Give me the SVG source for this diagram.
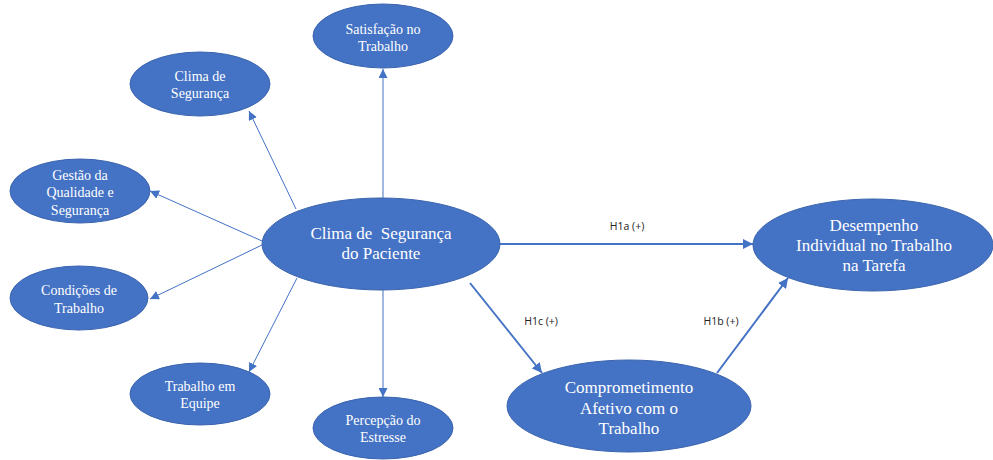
<svg xmlns="http://www.w3.org/2000/svg" width="993" height="460" viewBox="0 0 993 460">
<style>
.n{fill:#4472C4;stroke:#3A64AE;stroke-width:1}
.t{font-family:'Liberation Serif','Times New Roman','DejaVu Serif',serif;fill:#fff;text-anchor:middle}
.s{font-size:14px}
.b{font-size:17px}
.c{stroke:#4472C4;fill:none}
.thin{stroke-width:1}
.thick{stroke-width:2}
.lab{font-family:'Open Sans','Liberation Sans',sans-serif;font-size:10.5px;fill:#222;text-anchor:middle}
</style>
<defs>
<marker id="a" viewBox="0 0 10 10" refX="10" refY="5" markerWidth="9" markerHeight="9" markerUnits="userSpaceOnUse" orient="auto"><path d="M0,0L10,5L0,10z" fill="#4472C4"/></marker>
<marker id="a2" viewBox="0 0 10 10" refX="10" refY="5" markerWidth="5" markerHeight="5" orient="auto"><path d="M0,0L10,5L0,10z" fill="#4472C4"/></marker>
</defs>
<g id="connectors">
<line class="c thin" x1="383" y1="198" x2="383" y2="69" marker-end="url(#a)"/>
<line class="c thin" x1="296" y1="209" x2="249" y2="111" marker-end="url(#a)"/>
<line class="c thin" x1="262" y1="241" x2="150" y2="191" marker-end="url(#a)"/>
<line class="c thin" x1="262" y1="245" x2="150" y2="299" marker-end="url(#a)"/>
<line class="c thin" x1="297" y1="278" x2="249" y2="372" marker-end="url(#a)"/>
<line class="c thin" x1="383" y1="290" x2="383" y2="397" marker-end="url(#a)"/>
<line class="c thick" x1="500" y1="244" x2="753" y2="244" marker-end="url(#a2)"/>
<line class="c thick" x1="470" y1="283" x2="542" y2="373" marker-end="url(#a2)"/>
<line class="c thick" x1="717" y1="373" x2="788" y2="278" marker-end="url(#a2)"/>
<text class="lab" x="627" y="230">H1a (+)</text>
<text class="lab" x="541" y="325">H1c (+)</text>
<text class="lab" x="721" y="325">H1b (+)</text>
</g>
<g id="satisfacao"><ellipse class="n" cx="383" cy="36" rx="70" ry="32"/><text class="t s" x="383" y="34">Satisfação no</text><text class="t s" x="383" y="51">Trabalho</text></g>
<g id="clima"><ellipse class="n" cx="200" cy="84" rx="70" ry="32"/><text class="t s" x="200" y="81">Clima de</text><text class="t s" x="200" y="98">Segurança</text></g>
<g id="gestao"><ellipse class="n" cx="80" cy="191" rx="70" ry="32"/><text class="t s" x="80" y="180">Gestão da</text><text class="t s" x="80" y="197">Qualidade e</text><text class="t s" x="80" y="215">Segurança</text></g>
<g id="condicoes"><ellipse class="n" cx="79" cy="298" rx="69" ry="32"/><text class="t s" x="79" y="295">Condições de</text><text class="t s" x="79" y="313">Trabalho</text></g>
<g id="equipe"><ellipse class="n" cx="200" cy="394" rx="70" ry="31"/><text class="t s" x="200" y="391">Trabalho em</text><text class="t s" x="200" y="408">Equipe</text></g>
<g id="estresse"><ellipse class="n" cx="383" cy="428" rx="70" ry="31"/><text class="t s" x="383" y="425">Percepção do</text><text class="t s" x="383" y="442">Estresse</text></g>
<g id="central"><ellipse class="n" cx="381" cy="244" rx="119" ry="46"/><text class="t b" x="381" y="239" xml:space="preserve">Clima de  Segurança</text><text class="t b" x="381" y="259">do Paciente</text></g>
<g id="desempenho"><ellipse class="n" cx="873" cy="245" rx="120" ry="46"/><text class="t b" x="874" y="231">Desempenho</text><text class="t b" x="874" y="251">Individual no Trabalho</text><text class="t b" x="874" y="271">na Tarefa</text></g>
<g id="comprometimento"><ellipse class="n" cx="629" cy="406" rx="122" ry="46"/><text class="t b" x="629" y="393">Comprometimento</text><text class="t b" x="629" y="414">Afetivo com o</text><text class="t b" x="629" y="434">Trabalho</text></g>
</svg>
